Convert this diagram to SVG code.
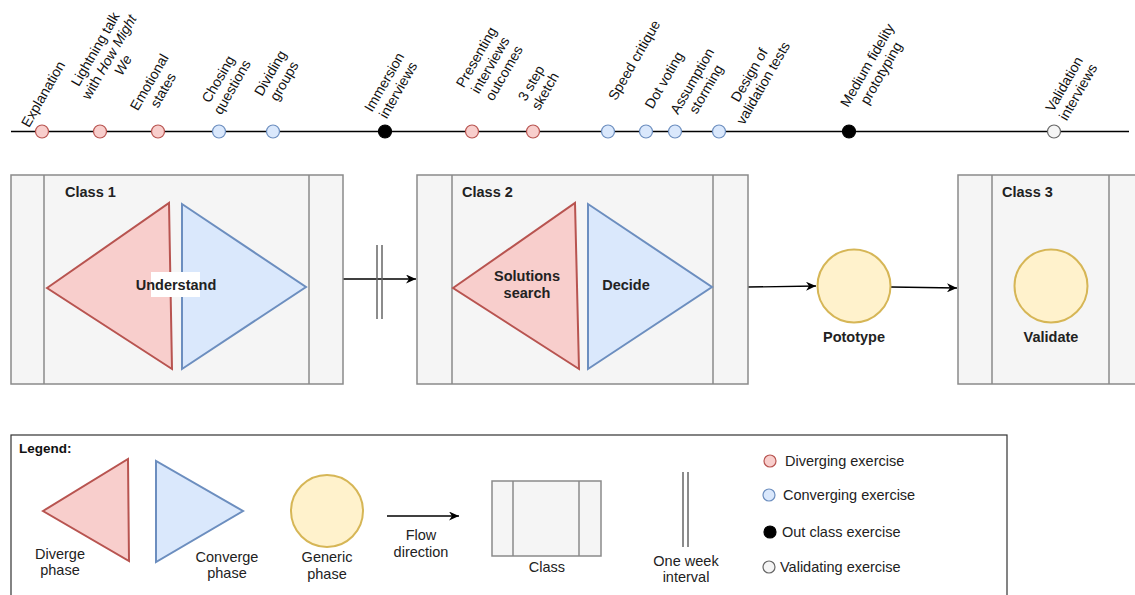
<svg xmlns="http://www.w3.org/2000/svg" width="1135" height="595" viewBox="0 0 1135 595">
<style>
text{font-family:"Liberation Sans",Arial,Helvetica,sans-serif;fill:#111}
.tl{font-size:14px;text-anchor:middle}
.b{font-weight:bold;font-size:14.5px;fill:#222}
.lg{font-size:14.5px;fill:#222}
.mid{text-anchor:middle}
.div{fill:#f8cecc;stroke:#b85450;stroke-width:2}
.conv{fill:#dae8fc;stroke:#6c8ebf;stroke-width:2}
.gen{fill:#fff2cc;stroke:#d6b656;stroke-width:2}
.cls{fill:#f5f5f5;stroke:#8a8a8a;stroke-width:1.5}
.clsl{stroke:#8a8a8a;stroke-width:1.5;fill:none}
.dd{fill:#f8cecc;stroke:#b85450;stroke-width:1.2}
.dc{fill:#dae8fc;stroke:#6c8ebf;stroke-width:1.2}
.dk{fill:#000;stroke:#000;stroke-width:1.2}
.dv{fill:#f5f5f5;stroke:#666;stroke-width:1.2}
.edge{stroke:#000;stroke-width:1.3;fill:none}
.wk{stroke:#666;stroke-width:1.5;fill:none}
</style>
<defs>
<marker id="arr" markerUnits="userSpaceOnUse" markerWidth="11" markerHeight="9" refX="10" refY="4.5" orient="auto">
<path d="M0,0 L10,4.5 L0,9 L3,4.5 z" fill="#000"/>
</marker>
</defs>
<rect width="1135" height="595" fill="#fff"/>

<g id="connectors">
<line class="edge" x1="11" y1="131.5" x2="1129" y2="131.5"/>
<line class="edge" x1="343" y1="279" x2="416" y2="279" marker-end="url(#arr)"/>
<line class="wk" x1="377" y1="245" x2="377" y2="319"/>
<line class="wk" x1="382" y1="245" x2="382" y2="319"/>
<line class="edge" x1="748" y1="287" x2="816" y2="286" marker-end="url(#arr)"/>
<line class="edge" x1="891" y1="287" x2="957" y2="288" marker-end="url(#arr)"/>
</g>

<g id="t-explanation"><circle class="dd" cx="42" cy="131.5" r="6.5"/><g transform="translate(43,94) rotate(-60)"><text class="tl" y="5">Explanation</text></g></g>
<g id="t-lightning"><circle class="dd" cx="100" cy="131.5" r="6.5"/><g transform="translate(109,57) rotate(-60)"><text class="tl" y="-11">Lightning talk</text><text class="tl" y="5">with <tspan font-style="italic">How Might</tspan></text><text class="tl" y="21" font-style="italic">We</text></g></g>
<g id="t-emotional"><circle class="dd" cx="158" cy="131.5" r="6.5"/><g transform="translate(156,86) rotate(-60)"><text class="tl" y="-3">Emotional</text><text class="tl" y="13">states</text></g></g>
<g id="t-chosing"><circle class="dc" cx="219" cy="131.5" r="6.5"/><g transform="translate(225,83) rotate(-60)"><text class="tl" y="-3">Chosing</text><text class="tl" y="13">questions</text></g></g>
<g id="t-dividing"><circle class="dc" cx="273" cy="131.5" r="6.5"/><g transform="translate(277,77) rotate(-60)"><text class="tl" y="-3">Dividing</text><text class="tl" y="13">groups</text></g></g>
<g id="t-immersion"><circle class="dk" cx="385" cy="131.5" r="6.5"/><g transform="translate(391,86) rotate(-60)"><text class="tl" y="-3">Immersion</text><text class="tl" y="13">interviews</text></g></g>
<g id="t-presenting"><circle class="dd" cx="472" cy="131.5" r="6.5"/><g transform="translate(490,65) rotate(-60)"><text class="tl" y="-11">Presenting</text><text class="tl" y="5">interviews</text><text class="tl" y="21">outcomes</text></g></g>
<g id="t-sketch"><circle class="dd" cx="533" cy="131.5" r="6.5"/><g transform="translate(538,87) rotate(-60)"><text class="tl" y="-3">3 step</text><text class="tl" y="13">sketch</text></g></g>
<g id="t-speed"><circle class="dc" cx="608" cy="131.5" r="6.5"/><g transform="translate(634,60) rotate(-60)"><text class="tl" y="5">Speed critique</text></g></g>
<g id="t-dot"><circle class="dc" cx="646" cy="131.5" r="6.5"/><g transform="translate(664,80) rotate(-60)"><text class="tl" y="5">Dot voting</text></g></g>
<g id="t-assumption"><circle class="dc" cx="675" cy="131.5" r="6.5"/><g transform="translate(699,85) rotate(-60)"><text class="tl" y="-3">Assumption</text><text class="tl" y="13">storming</text></g></g>
<g id="t-design"><circle class="dc" cx="719" cy="131.5" r="6.5"/><g transform="translate(756,79) rotate(-60)"><text class="tl" y="-3">Design of</text><text class="tl" y="13">validation tests</text></g></g>
<g id="t-medium"><circle class="dk" cx="849" cy="131.5" r="6.5"/><g transform="translate(874,69) rotate(-60)"><text class="tl" y="-3">Medium fidelity</text><text class="tl" y="13">prototyping</text></g></g>
<g id="t-validation"><circle class="dv" cx="1054" cy="131.5" r="6.5"/><g transform="translate(1071,88) rotate(-60)"><text class="tl" y="-3">Validation</text><text class="tl" y="13">interviews</text></g></g>

<g id="class1">
<rect class="cls" x="11" y="175" width="332" height="209"/>
<line class="clsl" x1="44" y1="175" x2="44" y2="384"/>
<line class="clsl" x1="309" y1="175" x2="309" y2="384"/>
<text class="b" x="65" y="197">Class 1</text>
</g>
<g id="understand-diverge"><polygon class="div" points="47,288 169,203 172,369"/></g>
<g id="understand-converge"><polygon class="conv" points="182,204 182,369 306,287"/></g>
<g id="understand-label"><rect x="151" y="272" width="49" height="25" fill="#fff"/><text class="b mid" x="176" y="290">Understand</text></g>

<g id="class2">
<rect class="cls" x="417" y="175" width="331" height="209"/>
<line class="clsl" x1="452" y1="175" x2="452" y2="384"/>
<line class="clsl" x1="713" y1="175" x2="713" y2="384"/>
<text class="b" x="462" y="197">Class 2</text>
</g>
<g id="solutions"><polygon class="div" points="453,288 575,203 579,369"/><text class="b mid" x="527" y="281">Solutions</text><text class="b mid" x="527" y="298">search</text></g>
<g id="decide"><polygon class="conv" points="588,204 588,369 712,287"/><text class="b mid" x="626" y="290">Decide</text></g>

<g id="prototype"><circle class="gen" cx="854" cy="286" r="36.5"/><text class="b mid" x="854" y="342">Pototype</text></g>

<g id="class3">
<rect class="cls" x="958" y="175" width="185" height="209"/>
<line class="clsl" x1="992" y1="175" x2="992" y2="384"/>
<line class="clsl" x1="1109" y1="175" x2="1109" y2="384"/>
<text class="b" x="1002" y="197">Class 3</text>
</g>
<g id="validate"><circle class="gen" cx="1051" cy="286" r="36.5"/><text class="b mid" x="1051" y="342">Validate</text></g>

<g id="legend">
<rect x="11" y="435" width="996" height="175" fill="#fff" stroke="#333" stroke-width="1.2"/>
<text x="19" y="453" font-weight="bold" font-size="13.5px" fill="#222">Legend:</text>
<polygon class="div" points="43,511 128,459 129,561"/>
<text class="lg mid" x="60" y="559">Diverge</text><text class="lg mid" x="60" y="575">phase</text>
<polygon class="conv" points="156,461 156,562 243,511"/>
<text class="lg mid" x="227" y="562">Converge</text><text class="lg mid" x="227" y="578">phase</text>
<circle class="gen" cx="327" cy="511" r="36"/>
<text class="lg mid" x="327" y="562">Generic</text><text class="lg mid" x="327" y="579">phase</text>
<line class="edge" x1="387" y1="516" x2="459" y2="516" marker-end="url(#arr)"/>
<text class="lg mid" x="421" y="540">Flow</text><text class="lg mid" x="421" y="557">direction</text>
<rect class="cls" x="492" y="481" width="109" height="75"/>
<line class="clsl" x1="513" y1="481" x2="513" y2="556"/>
<line class="clsl" x1="579" y1="481" x2="579" y2="556"/>
<text class="lg mid" x="547" y="572">Class</text>
<line class="wk" x1="683" y1="472" x2="683" y2="547"/>
<line class="wk" x1="688" y1="472" x2="688" y2="547"/>
<text class="lg mid" x="686" y="566">One week</text><text class="lg mid" x="686" y="582">interval</text>
<circle class="dd" cx="770" cy="461" r="6"/><text class="lg" x="785" y="466">Diverging exercise</text>
<circle class="dc" cx="769" cy="495" r="6"/><text class="lg" x="783" y="500">Converging exercise</text>
<circle class="dk" cx="770" cy="532" r="6"/><text class="lg" x="782" y="537">Out class exercise</text>
<circle class="dv" cx="769" cy="567" r="6"/><text class="lg" x="780" y="572">Validating exercise</text>
</g>
</svg>
